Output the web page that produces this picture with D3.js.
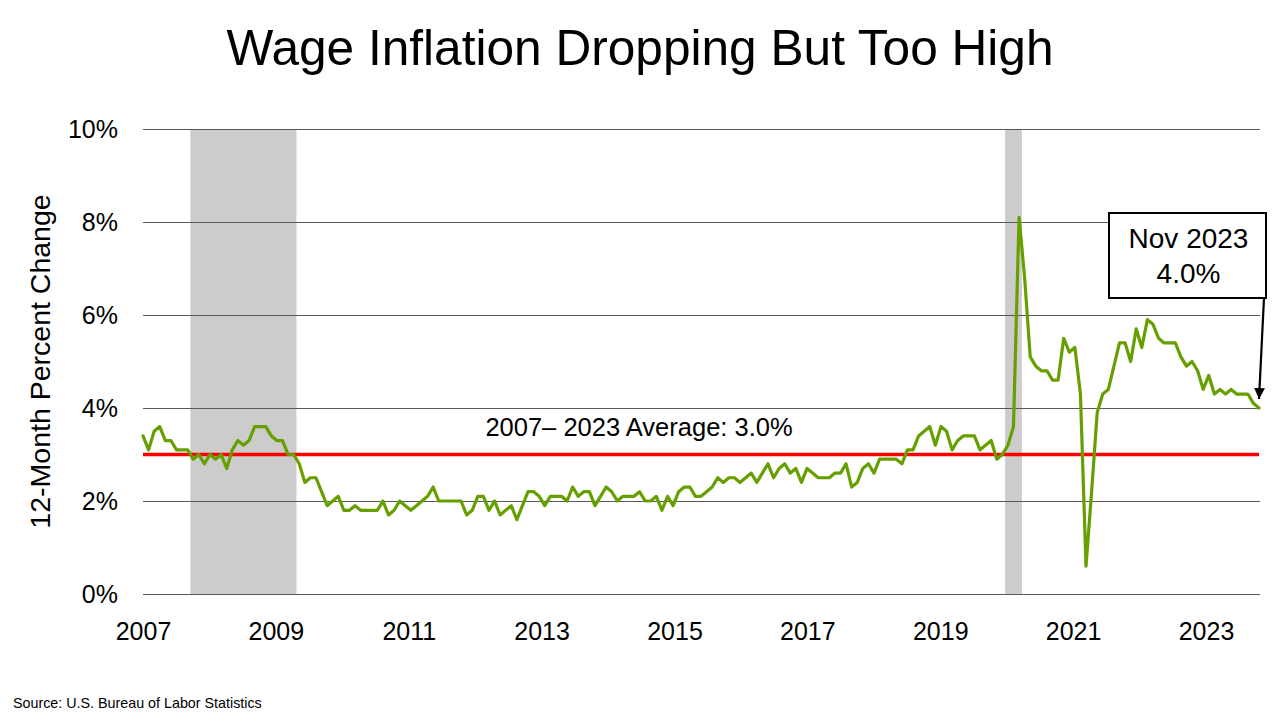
<!DOCTYPE html>
<html>
<head>
<meta charset="utf-8">
<script src="https://cdn.jsdelivr.net/npm/d3@7/dist/d3.min.js"></script>
<style>
  body { margin: 0; background: #ffffff; }
  svg { display: block; font-family: "Liberation Sans", Arial, Helvetica, sans-serif; }
</style>
</head>
<body>
<svg id="chart" width="1280" height="720"></svg>
<script>
// ---------------- data ----------------
const titleText = "Wage Inflation Dropping But Too High";
const yAxisTitle = "12-Month Percent Change";
const sourceText = "Source: U.S. Bureau of Labor Statistics";
const startMonth = "2007-03";            // first monthly observation
const wageGrowth = [                      // 12-month % change, monthly
  3.4, 3.1, 3.5, 3.6, 3.3, 3.3, 3.1, 3.1, 3.1, 2.9, 3.0, 2.8,
  3.0, 2.9, 3.0, 2.7, 3.1, 3.3, 3.2, 3.3, 3.6, 3.6, 3.6, 3.4,
  3.3, 3.3, 3.0, 3.0, 2.8, 2.4, 2.5, 2.5, 2.2, 1.9, 2.0, 2.1,
  1.8, 1.8, 1.9, 1.8, 1.8, 1.8, 1.8, 2.0, 1.7, 1.8, 2.0, 1.9,
  1.8, 1.9, 2.0, 2.1, 2.3, 2.0, 2.0, 2.0, 2.0, 2.0, 1.7, 1.8,
  2.1, 2.1, 1.8, 2.0, 1.7, 1.8, 1.9, 1.6, 1.9, 2.2, 2.2, 2.1,
  1.9, 2.1, 2.1, 2.1, 2.0, 2.3, 2.1, 2.2, 2.2, 1.9, 2.1, 2.3,
  2.2, 2.0, 2.1, 2.1, 2.1, 2.2, 2.0, 2.0, 2.1, 1.8, 2.1, 1.9,
  2.2, 2.3, 2.3, 2.1, 2.1, 2.2, 2.3, 2.5, 2.4, 2.5, 2.5, 2.4,
  2.5, 2.6, 2.4, 2.6, 2.8, 2.5, 2.7, 2.8, 2.6, 2.7, 2.4, 2.7,
  2.6, 2.5, 2.5, 2.5, 2.6, 2.6, 2.8, 2.3, 2.4, 2.7, 2.8, 2.6,
  2.9, 2.9, 2.9, 2.9, 2.8, 3.1, 3.1, 3.4, 3.5, 3.6, 3.2, 3.6,
  3.5, 3.1, 3.3, 3.4, 3.4, 3.4, 3.1, 3.2, 3.3, 2.9, 3.0, 3.2,
  3.6, 8.1, 6.8, 5.1, 4.9, 4.8, 4.8, 4.6, 4.6, 5.5, 5.2, 5.3,
  4.3, 0.6, 2.2, 3.9, 4.3, 4.4, 4.9, 5.4, 5.4, 5.0, 5.7, 5.3,
  5.9, 5.8, 5.5, 5.4, 5.4, 5.4, 5.1, 4.9, 5.0, 4.8, 4.4, 4.7,
  4.3, 4.4, 4.3, 4.4, 4.3, 4.3, 4.3, 4.1, 4.0
];
const yTicks = [0, 2, 4, 6, 8, 10];
const xTickYears = [2007, 2009, 2011, 2013, 2015, 2017, 2019, 2021, 2023];
const recessions = [["2007-12", "2009-06"], ["2020-02", "2020-04"]];
const averageValue = 3.0;
const averageLabel = "2007\u2013 2023 Average: 3.0%";
const calloutLines = ["Nov 2023", "4.0%"];

// ---------------- helpers ----------------
function monthIndex(s) {
  const [y0, m0] = startMonth.split("-").map(Number);
  const [y, m] = s.split("-").map(Number);
  return (y - y0) * 12 + (m - m0);
}

// ---------------- layout ----------------
const plot = { left: 143, right: 1260, top: 129, bottom: 594 };
const svg = d3.select("#chart");

const x = d3.scaleLinear().domain([0, wageGrowth.length - 1]).range([plot.left, plot.right - 1]);
const y = d3.scaleLinear().domain([0, 10]).range([plot.bottom, plot.top]);
// category-axis year labels (spaced as in the original axis)
const xYear = d3.scaleLinear().domain([2007, 2023]).range([143, 1206]);

// title
svg.append("text")
  .attr("x", 640).attr("y", 65)
  .attr("text-anchor", "middle")
  .attr("font-size", 49.6)
  .attr("fill", "#000")
  .text(titleText);

// recession shading
svg.append("g").selectAll("rect")
  .data(recessions)
  .join("rect")
  .attr("x", d => x(monthIndex(d[0]) - 0.5))
  .attr("width", d => x(monthIndex(d[1]) + 0.5) - x(monthIndex(d[0]) - 0.5))
  .attr("y", y(10))
  .attr("height", y(0) - y(10))
  .attr("fill", "#cccccc");

// gridlines
const grid = svg.append("g")
  .attr("transform", `translate(${plot.left},0)`)
  .call(d3.axisLeft(y).tickValues(yTicks).tickSize(-(plot.right - plot.left)).tickFormat(""));
grid.select(".domain").remove();
grid.selectAll("line").attr("stroke", "#595959").attr("stroke-width", 1);

// y tick labels
const yAx = svg.append("g")
  .attr("transform", `translate(118,0)`)
  .call(d3.axisLeft(y).tickValues(yTicks).tickSize(0).tickPadding(0).tickFormat(d => d + "%"));
yAx.select(".domain").remove();
yAx.selectAll("text").attr("font-size", 25).attr("fill", "#000")
  .attr("font-family", "Liberation Sans, Arial, sans-serif");

// x tick labels
const xAx = svg.append("g")
  .attr("transform", `translate(0,${plot.bottom})`)
  .call(d3.axisBottom(xYear)
    .tickValues(xTickYears)
    .tickSize(0).tickPadding(28)
    .tickFormat(d3.format("d")));
xAx.select(".domain").remove();
xAx.selectAll("text").attr("font-size", 25).attr("fill", "#000")
  .attr("font-family", "Liberation Sans, Arial, sans-serif");

// y axis title
svg.append("text")
  .attr("transform", `translate(50,${(plot.top + plot.bottom) / 2}) rotate(-90)`)
  .attr("text-anchor", "middle")
  .attr("font-size", 28.5)
  .attr("fill", "#000")
  .text(yAxisTitle);

// average line
svg.append("line")
  .attr("x1", x(0)).attr("x2", x(wageGrowth.length - 1))
  .attr("y1", y(averageValue)).attr("y2", y(averageValue))
  .attr("stroke", "#ff0000").attr("stroke-width", 3.5);

svg.append("text")
  .attr("x", 639).attr("y", y(averageValue) - 19)
  .attr("text-anchor", "middle")
  .attr("font-size", 25.5)
  .attr("fill", "#000")
  .text(averageLabel);

// wage line
svg.append("path")
  .datum(wageGrowth)
  .attr("d", d3.line().x((d, i) => x(i)).y(d => y(d)))
  .attr("fill", "none")
  .attr("stroke", "#66a000")
  .attr("stroke-width", 3.2)
  .attr("stroke-linejoin", "round")
  .attr("stroke-linecap", "round");

// callout
const lastI = wageGrowth.length - 1;
const box = { x: 1109, y: 213, w: 157, h: 85 };
svg.append("defs").append("marker")
  .attr("id", "arrow")
  .attr("viewBox", "0 0 10 10")
  .attr("refX", 10).attr("refY", 5)
  .attr("markerWidth", 5).attr("markerHeight", 5)
  .attr("orient", "auto")
  .append("path").attr("d", "M0,0 L10,5 L0,10 Z").attr("fill", "#000");

svg.append("line")
  .attr("x1", box.x + box.w - 2).attr("y1", box.y + box.h)
  .attr("x2", x(lastI)).attr("y2", y(wageGrowth[lastI]) - 9)
  .attr("stroke", "#000").attr("stroke-width", 2.2)
  .attr("marker-end", "url(#arrow)");

svg.append("rect")
  .attr("x", box.x).attr("y", box.y).attr("width", box.w).attr("height", box.h)
  .attr("fill", "#fff").attr("stroke", "#000").attr("stroke-width", 2);

svg.append("g").selectAll("text")
  .data(calloutLines)
  .join("text")
  .attr("x", box.x + box.w / 2 + 1)
  .attr("y", (d, i) => box.y + 35 + i * 35)
  .attr("text-anchor", "middle")
  .attr("font-size", 28)
  .attr("fill", "#000")
  .text(d => d);

// source
svg.append("text")
  .attr("x", 13).attr("y", 708)
  .attr("font-size", 14.3)
  .attr("fill", "#000")
  .text(sourceText);
</script>
</body>
</html>
